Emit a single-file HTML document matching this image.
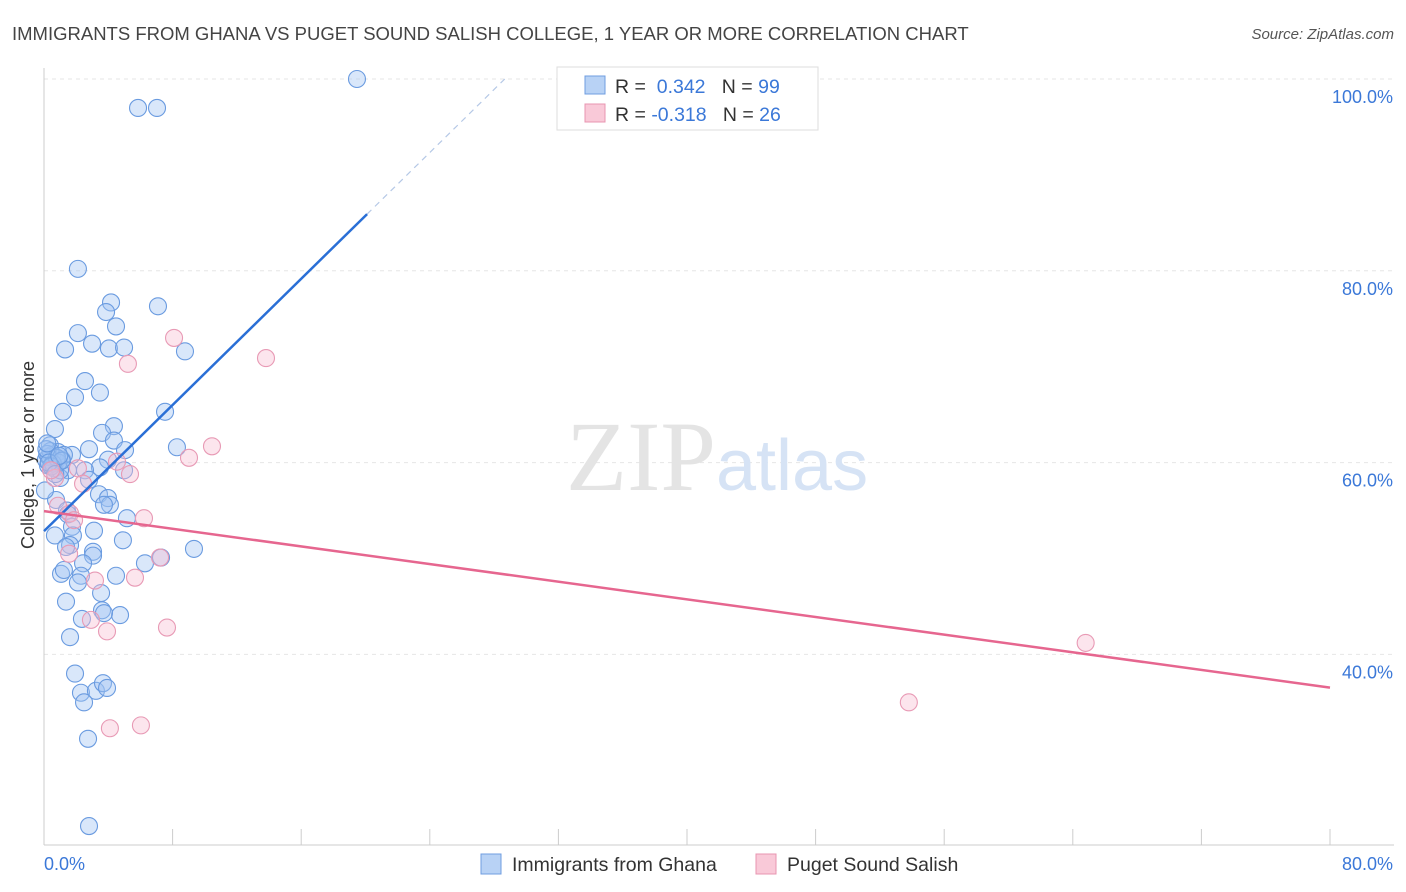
<!DOCTYPE html>
<html><head><meta charset="utf-8"><style>
body{margin:0;background:#fff;font-family:"Liberation Sans",sans-serif;}
svg{display:block}
</style></head><body>
<svg id="chart" width="1406" height="892">
<text x="12" y="40" font-size="18.5" fill="#444">IMMIGRANTS FROM GHANA VS PUGET SOUND SALISH COLLEGE, 1 YEAR OR MORE CORRELATION CHART</text>
<text x="1394" y="39" font-size="15" fill="#555" font-style="italic" text-anchor="end">Source: ZipAtlas.com</text>
<g id="grid"></g>
<text x="716" y="490" font-size="100" fill="#e4e4e4" font-family="Liberation Serif,serif" text-anchor="end">ZIP</text>
<text x="716" y="490" font-size="72" fill="#d6e3f5">atlas</text>
<g id="pts"></g>
<g id="lines"></g>
<text transform="translate(34,455) rotate(-90)" font-size="18" fill="#333" text-anchor="middle">College, 1 year or more</text>
<text x="44" y="870" font-size="18" fill="#3b78d8">0.0%</text>
<text x="1393" y="870" font-size="18" fill="#3b78d8" text-anchor="end">80.0%</text>
<g>
<rect x="557" y="67" width="261" height="63" fill="#fff" stroke="#ddd"/>
<rect x="585" y="76" width="20" height="18" fill="#b8d2f5" stroke="#6f9de0"/>
<rect x="585" y="104" width="20" height="18" fill="#f9c9d8" stroke="#e895b0"/>
<text x="615" y="93" font-size="19.5" fill="#333">R = <tspan fill="#3b78d8">&#160;0.342</tspan>&#160;&#160;&#160;N = <tspan fill="#3b78d8">99</tspan></text>
<text x="615" y="121" font-size="19.5" fill="#333">R = <tspan fill="#3b78d8">-0.318</tspan>&#160;&#160;&#160;N = <tspan fill="#3b78d8">26</tspan></text>
</g>
<g>
<rect x="481" y="854" width="20" height="20" fill="#b8d2f5" stroke="#6f9de0"/>
<text x="512" y="871" font-size="19.5" fill="#333">Immigrants from Ghana</text>
<rect x="756" y="854" width="20" height="20" fill="#f9c9d8" stroke="#e895b0"/>
<text x="787" y="871" font-size="19.5" fill="#333">Puget Sound Salish</text>
</g>
</svg>
<script>
const yTicks=[100,80,60,40];
const yTickLabels=["100.0%","80.0%","60.0%","40.0%"];
const xTicks=[0,8,16,24,32,40,48,56,64,72,80];
const blueX=[19.47,5.85,7.03,2.11,4.17,7.09,3.86,4.48,2.11,1.31,2.99,4.04,4.98,8.77,2.55,3.48,1.93,1.18,7.53,0.68,4.35,3.61,2.8,4.35,5.04,8.27,1.74,0.37,0.25,0.75,1.12,3.98,3.48,4.98,1.49,2.55,1.0,2.8,0.75,3.42,3.98,4.1,3.73,1.43,1.49,5.16,1.74,3.11,0.68,1.8,4.91,1.62,3.05,1.37,3.05,6.28,7.28,9.33,2.43,4.48,1.06,1.24,2.3,2.11,3.55,1.37,3.61,4.73,3.73,2.36,1.62,1.93,2.3,3.23,3.67,3.92,2.49,2.74,2.8,0.5,0.87,0.12,0.62,1.24,0.06,1.0,0.3,0.4,0.9,0.2,0.55,0.8,0.15,1.1,0.45,0.3,0.7,0.2,0.95];
const blueY=[100,96.98,96.98,80.2,76.7,76.3,75.7,74.2,73.5,71.8,72.4,71.9,72.0,71.6,68.5,67.3,66.8,65.3,65.3,63.5,63.8,63.1,61.4,62.3,61.3,61.6,60.8,61.8,59.7,60.1,60.3,60.3,59.5,59.2,59.2,59.2,58.4,58.2,56.1,56.7,56.3,55.6,55.6,55.0,54.6,54.2,53.3,52.9,52.4,52.4,51.9,51.4,50.7,51.2,50.3,49.5,50.1,51.0,49.5,48.2,48.4,48.8,48.2,47.5,46.4,45.5,44.6,44.1,44.3,43.7,41.8,38.0,36.0,36.2,37.0,36.5,35.0,31.2,22.1,60.8,61.1,60.3,59.4,60.8,57.1,59.2,60.6,61.2,60.0,60.9,59.9,60.5,61.4,60.2,59.6,60.0,58.8,62.0,60.7];
const pinkX=[8.09,13.81,5.22,10.45,9.02,5.35,4.54,2.11,0.68,2.43,6.22,1.62,0.87,1.56,7.22,3.17,5.66,2.92,3.92,7.65,4.1,6.03,64.8,53.8,0.44,1.87];
const pinkY=[73.0,70.9,70.3,61.7,60.5,58.8,60.1,59.4,58.4,57.8,54.2,54.7,55.5,50.5,50.1,47.7,48.0,43.6,42.4,42.8,32.3,32.6,41.2,35.0,59.2,54.0];
const blueFit=[52.85,1.645];
const pinkFit=[54.94,-0.23];
const NS="http://www.w3.org/2000/svg";
const xs=v=>44+v*1286/80;
const ys=v=>79+(100-v)*9.59;
function mk(t,a,p){const e=document.createElementNS(NS,t);for(const k in a)e.setAttribute(k,a[k]);p.appendChild(e);return e;}
const grid=document.getElementById('grid');
yTicks.forEach((v,i)=>{
 const l=mk('line',{x1:44,x2:1394,y1:ys(v),y2:ys(v),stroke:'#e6e6e6','stroke-dasharray':'4,4'},grid);
 
 
 const t=mk('text',{x:1393,y:ys(v)+24,'font-size':18,fill:'#3b78d8','text-anchor':'end'},grid);
 t.textContent=yTickLabels[i];
 
 
});
const ax=mk('line',{x1:44,x2:44,y1:68,y2:845,stroke:'#ccc'},grid);


const bx=mk('line',{x1:44,x2:1394,y1:845,y2:845,stroke:'#ccc'},grid);


xTicks.forEach(v=>{
 const t=mk('line',{x1:xs(v),x2:xs(v),y1:829,y2:845,stroke:'#ccc'},grid);
 
 
});
const pts=document.getElementById('pts');
blueX.forEach((v,i)=>{
 const c=mk('circle',{cx:xs(v),cy:ys(blueY[i]),r:8.5,fill:'rgba(160,196,242,0.4)',stroke:'#6a9be0','stroke-width':1.1},pts);
 
 
});
pinkX.forEach((v,i)=>{
 const c=mk('circle',{cx:xs(v),cy:ys(pinkY[i]),r:8.5,fill:'rgba(248,190,210,0.4)',stroke:'#e89ab5','stroke-width':1.1},pts);
 
 
});
const lines=document.getElementById('lines');
const bf=x=>blueFit[0]+blueFit[1]*x, pf=x=>pinkFit[0]+pinkFit[1]*x;
const b1=mk('line',{x1:xs(0),y1:ys(bf(0)),x2:xs(20.1),y2:ys(bf(20.1)),stroke:'#2a6fd6','stroke-width':2.5},lines);


const xe=(100-blueFit[0])/blueFit[1];
const b2=mk('line',{x1:xs(20.1),y1:ys(bf(20.1)),x2:xs(xe),y2:ys(100),stroke:'#b5c8e6','stroke-width':1.2,'stroke-dasharray':'6,5'},lines);


const p1=mk('line',{x1:xs(0),y1:ys(pf(0)),x2:xs(80),y2:ys(pf(80)),stroke:'#e6668f','stroke-width':2.5},lines);


</script>
</body></html>
